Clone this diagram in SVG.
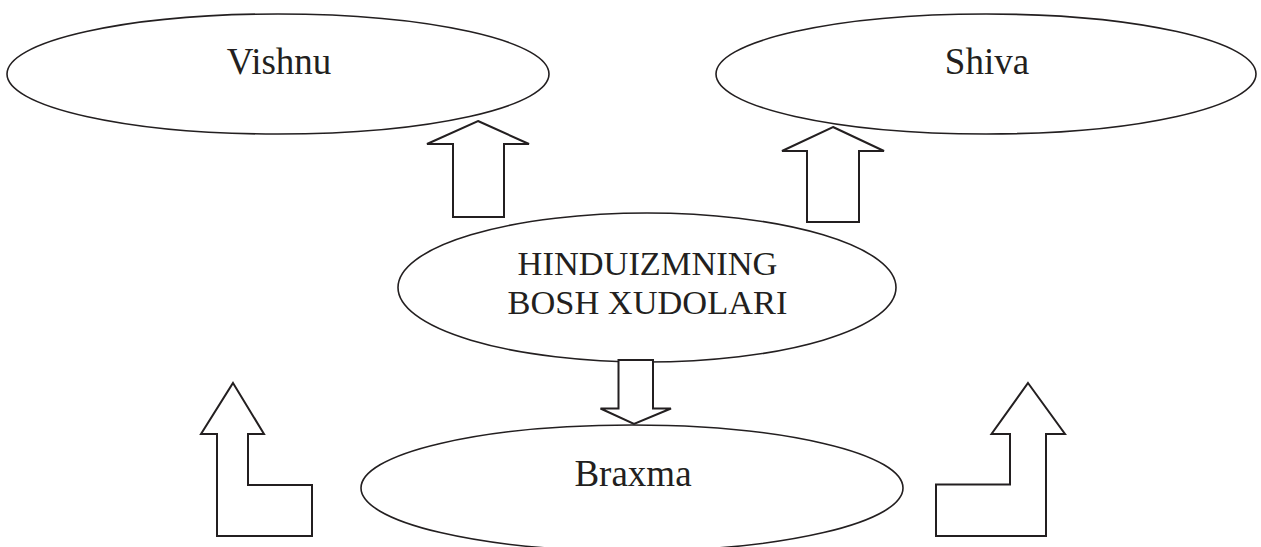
<svg xmlns="http://www.w3.org/2000/svg" width="1261" height="547" viewBox="0 0 1261 547">
<style>
.shape{fill:#fff;stroke:#231f20;stroke-width:1.6}
.arrow{fill:#fff;stroke:#231f20;stroke-width:2;stroke-linejoin:miter}
text{font-family:"Liberation Serif","Times New Roman",serif;font-size:37px;fill:#231f20;text-anchor:middle}
.c{font-size:34.4px}
</style>
<rect width="1261" height="547" fill="#fff"/>
<g id="vishnu"><ellipse class="shape" cx="278" cy="74" rx="271" ry="60"/><text x="279" y="74">Vishnu</text></g>
<g id="shiva"><ellipse class="shape" cx="986" cy="74" rx="270" ry="60"/><text x="987" y="74">Shiva</text></g>
<g id="center"><ellipse class="shape" cx="647" cy="287.5" rx="249" ry="74.5"/><text class="c" x="647.5" y="274.6">HINDUIZMNING</text><text class="c" x="647.5" y="313.6">BOSH XUDOLARI</text></g>
<g id="braxma"><ellipse class="shape" cx="632" cy="488" rx="271" ry="63"/><text x="633" y="486">Braxma</text></g>
<g id="connectors">
<polygon class="arrow" points="478,121 529,144 504,144 504,217 453,217 453,144 427,144"/>
<polygon class="arrow" points="833,127 884,151 859,151 859,222 807,222 807,151 782,151"/>
<polygon class="arrow" points="618.5,360 653,360 653,408.5 671,408.5 634,424 600.5,408.5 618.5,408.5"/>
<polygon class="arrow" points="233,383 264,434 248,434 248,485 312,485 312,536 217,536 217,434 201,434"/>
<polygon class="arrow" points="1028,383 1065,434 1046,434 1046,536 936,536 936,484.5 1010,484.5 1010,434 991.5,434"/>
</g>
</svg>
